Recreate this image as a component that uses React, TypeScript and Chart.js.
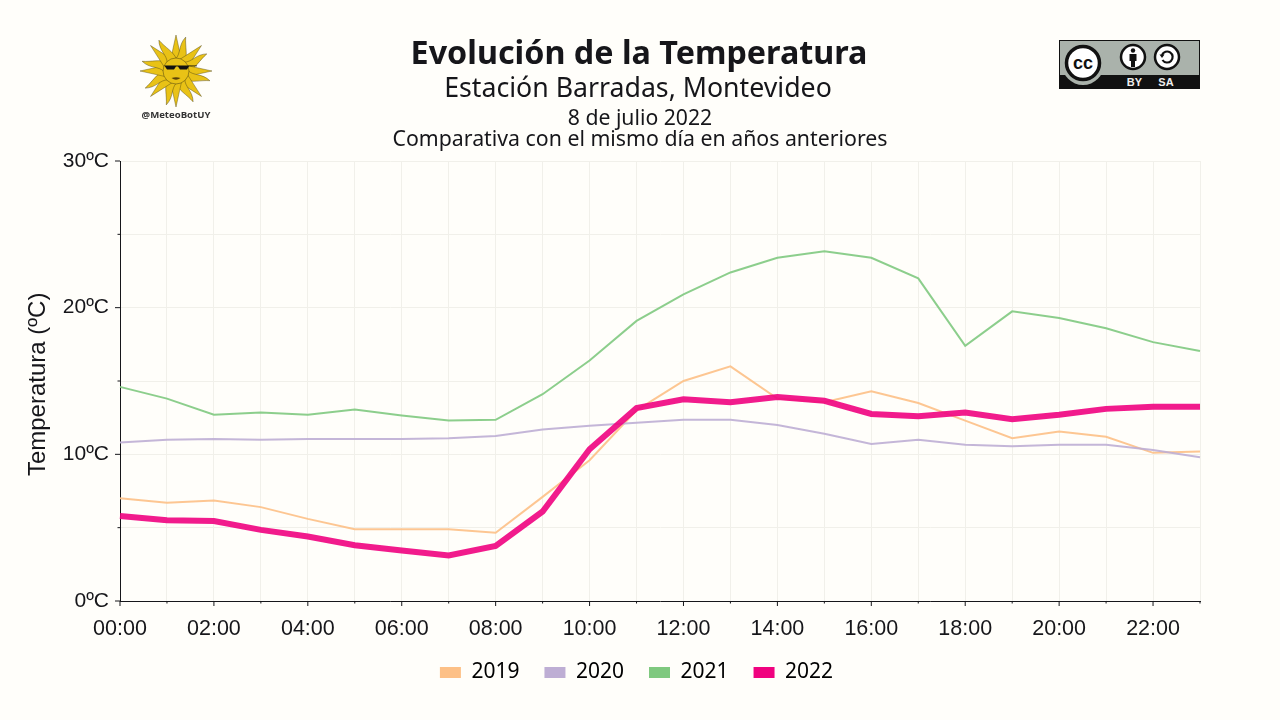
import { useEffect, useRef } from 'react'
import { Chart, registerables } from 'chart.js'

Chart.register(...registerables)

const hours = [
  '00:00', '01:00', '02:00', '03:00', '04:00', '05:00', '06:00', '07:00',
  '08:00', '09:00', '10:00', '11:00', '12:00', '13:00', '14:00', '15:00',
  '16:00', '17:00', '18:00', '19:00', '20:00', '21:00', '22:00', '23:00',
]
const temps2019 = [7.0, 6.7, 6.85, 6.4, 5.6, 4.9, 4.9, 4.9, 4.65, 7.1, 9.6, 13.0, 15.0, 16.0, 13.8, 13.55, 14.3, 13.5, 12.3, 11.1, 11.55, 11.2, 10.1, 10.2]
const temps2020 = [10.8, 11.0, 11.05, 11.0, 11.05, 11.05, 11.05, 11.1, 11.25, 11.7, 11.95, 12.15, 12.35, 12.35, 12.0, 11.4, 10.7, 11.0, 10.65, 10.55, 10.65, 10.65, 10.3, 9.8]
const temps2021 = [14.6, 13.8, 12.7, 12.85, 12.7, 13.05, 12.65, 12.3, 12.35, 14.1, 16.4, 19.1, 20.9, 22.4, 23.4, 23.85, 23.4, 22.0, 17.4, 19.75, 19.3, 18.6, 17.65, 17.05]
const temps2022 = [5.8, 5.5, 5.45, 4.85, 4.4, 3.8, 3.45, 3.1, 3.75, 6.1, 10.35, 13.15, 13.75, 13.55, 13.9, 13.65, 12.75, 12.6, 12.85, 12.4, 12.7, 13.1, 13.25, 13.25]

const BG = '#fffefa'
const INK = '#16161a'
const GRID = '#f1f0ea'

// Ticks are drawn by hand: major and minor have different lengths
const axisTicks = {
  id: 'axisTicks',
  afterLayout(chart: Chart) {
    // legend is centred on the page's plot block, not the padded box
    const legend = chart.legend
    if (legend) {
      legend.left += 36.5
      legend.right += 36.5
    }
  },
  afterDraw(chart: Chart) {
    const { ctx, scales } = chart
    const x = scales.x
    const y = scales.y
    ctx.save()
    ctx.strokeStyle = INK
    ctx.lineWidth = 1
    ctx.beginPath()
    x.ticks.forEach((_t, i) => {
      const px = x.getPixelForValue(i)
      ctx.moveTo(px, x.top)
      ctx.lineTo(px, x.top + (i % 2 === 0 ? 5 : 2.5))
    })
    y.ticks.forEach(t => {
      const py = y.getPixelForValue(t.value)
      ctx.moveTo(y.right, py)
      ctx.lineTo(y.right - (t.value % 10 === 0 ? 5 : 2.5), py)
    })
    ctx.stroke()
    ctx.restore()
  },
}

function SunLogo() {
  const rays = Array.from({ length: 16 }, (_, i) => i * 22.5)
  return (
    <svg width={110} height={110} viewBox="0 0 110 110" style={{ position: 'absolute', left: 121, top: 16 }}>
      {rays.map(a => (
        <g key={a} transform={`rotate(${a} 55 55)`}>
          <path
            d={a % 45 === 0 ? 'M49.5 44 L55 19 L60.5 44 Z' : 'M50 44 C53 37 47 30 51 20 C54 29 60 36 60 44 Z'}
            fill="#e9c216"
            stroke="#4a4010"
            strokeWidth={0.4}
          />
        </g>
      ))}
      <circle cx={55} cy={55} r={13} fill="#e9c216" stroke="#4a4010" strokeWidth={0.5} />
      <path d="M43 49.5 H76 V50.3 H68 L66 53.5 H59 L57 50.5 H55 L53 53.5 H46 L44 50.5 Z" fill="#111" />
      <path d="M50.5 62 Q55 60.5 59.5 62 Q55 65.5 50.5 62 Z" fill="#5a420a" />
      <text x={55} y={102} textAnchor="middle" fontFamily="'Open Sans'" fontWeight={700} fontSize={9.6} fill="#333">
        @MeteoBotUY
      </text>
    </svg>
  )
}

function CcBadge() {
  const label = { fontFamily: "'Liberation Sans'", fontWeight: 700, fontSize: 11, fill: '#eee', textAnchor: 'middle' as const }
  return (
    <svg width={141} height={49} viewBox="0 0 141 49" style={{ position: 'absolute', left: 1059, top: 40 }}>
      <rect x={0.5} y={0.5} width={140} height={48} fill="#aab2ab" stroke="#111" />
      <rect x={0} y={35} width={141} height={14} fill="#111" />
      <circle cx={24} cy={24} r={21} fill="#aab2ab" />
      <circle cx={24} cy={23} r={16.5} fill="#fff" stroke="#111" strokeWidth={3.5} />
      <text x={24} y={29} textAnchor="middle" fontFamily="'Liberation Sans'" fontWeight={700} fontSize={18} fill="#111">cc</text>
      <circle cx={74} cy={17} r={12} fill="#fff" stroke="#111" strokeWidth={2.5} />
      <circle cx={74} cy={10.5} r={2.2} fill="#111" />
      <path d="M70.5 14 H77.5 V21 H76 V27 H72 V21 H70.5 Z" fill="#111" />
      <circle cx={108} cy={17} r={12} fill="#fff" stroke="#111" strokeWidth={2.5} />
      <path d="M103 15 A5.5 5.5 0 1 1 103.5 20" fill="none" stroke="#111" strokeWidth={2.2} />
      <path d="M100.5 14.5 L105.5 14.5 L103 18 Z" fill="#111" />
      <text x={75.5} y={46} {...label}>BY</text>
      <text x={107} y={46} {...label}>SA</text>
    </svg>
  )
}

const titleStyle = {
  position: 'absolute', left: 0, width: 1280, textAlign: 'center', margin: 0,
  fontFamily: "'Noto Sans'", color: INK, lineHeight: 1, whiteSpace: 'nowrap',
} as const

export default function App() {
  const canvasRef = useRef<HTMLCanvasElement>(null)

  useEffect(() => {
    if (!canvasRef.current) return
    document.body.style.background = BG

    const chart = new Chart(canvasRef.current, {
      type: 'line',
      data: {
        labels: hours,
        datasets: [
          { label: '2019', data: temps2019, borderColor: 'rgba(253,192,134,0.9)', backgroundColor: '#fdc086', borderWidth: 2, order: 4 },
          { label: '2020', data: temps2020, borderColor: 'rgba(190,174,212,0.9)', backgroundColor: '#beaed4', borderWidth: 2, order: 3 },
          { label: '2021', data: temps2021, borderColor: 'rgba(127,201,127,0.9)', backgroundColor: '#7fc97f', borderWidth: 2, order: 2 },
          { label: '2022', data: temps2022, borderColor: 'rgba(240,2,127,0.9)', backgroundColor: '#f0027f', borderWidth: 6, order: 1 },
        ],
      },
      options: {
        responsive: false,
        animation: false,
        elements: { point: { radius: 0 }, line: { tension: 0 } },
        layout: { padding: { top: 161, right: 80, left: 0, bottom: 27 } },
        plugins: {
          title: { display: false },
          tooltip: { enabled: false },
          legend: {
            position: 'bottom',
            labels: {
              boxWidth: 21,
              boxHeight: 11,
              padding: 25,
              color: INK,
              font: { family: "'Noto Sans'", size: 21 },
              generateLabels: c =>
                c.data.datasets.map((d, i) => ({
                  text: d.label as string,
                  fillStyle: d.backgroundColor as string,
                  strokeStyle: d.backgroundColor as string,
                  lineWidth: 0,
                  datasetIndex: i,
                })),
            },
          },
        },
        scales: {
          x: {
            grid: { color: GRID, drawTicks: false },
            border: { color: INK },
            ticks: {
              autoSkip: false,
              maxRotation: 0,
              padding: 15,
              color: INK,
              font: { family: "'Liberation Sans'", size: 21.5 },
              callback: (_v, i) => (i % 2 === 0 ? hours[i] : ''),
            },
            afterFit: s => { s.height = 36 },
          },
          y: {
            min: 0,
            max: 30,
            grid: { color: GRID, drawTicks: false },
            border: { color: INK },
            ticks: {
              stepSize: 5,
              padding: 11,
              color: INK,
              font: { family: "'Liberation Sans'", size: 21 },
              callback: v => (Number(v) % 10 === 0 ? `${v}ºC` : ''),
            },
            title: {
              display: true,
              text: 'Temperatura (ºC) ',
              color: INK,
              font: { family: "'Liberation Sans'", size: 24 },
              padding: { top: 24, bottom: 0 },
            },
            afterFit: s => { s.width = 120 },
          },
        },
      },
      plugins: [axisTicks],
    })

    return () => chart.destroy()
  }, [])

  return (
    <div style={{ position: 'fixed', left: 0, top: 0, width: 1280, height: 720, background: BG, overflow: 'hidden' }}>
      <canvas ref={canvasRef} width={1280} height={720} style={{ position: 'absolute', left: 0, top: 0 }} />
      <SunLogo />
      <CcBadge />
      <div style={{ ...titleStyle, top: 35, fontSize: 32.3, fontWeight: 700, left: -1 }}>Evolución de la Temperatura</div>
      <div style={{ ...titleStyle, top: 74, fontSize: 26.7, left: -2 }}>Estación Barradas, Montevideo</div>
      <div style={{ ...titleStyle, top: 106, fontSize: 21.2 }}>8 de julio 2022</div>
      <div style={{ ...titleStyle, top: 127, fontSize: 21.3 }}>Comparativa con el mismo día en años anteriores</div>
    </div>
  )
}
